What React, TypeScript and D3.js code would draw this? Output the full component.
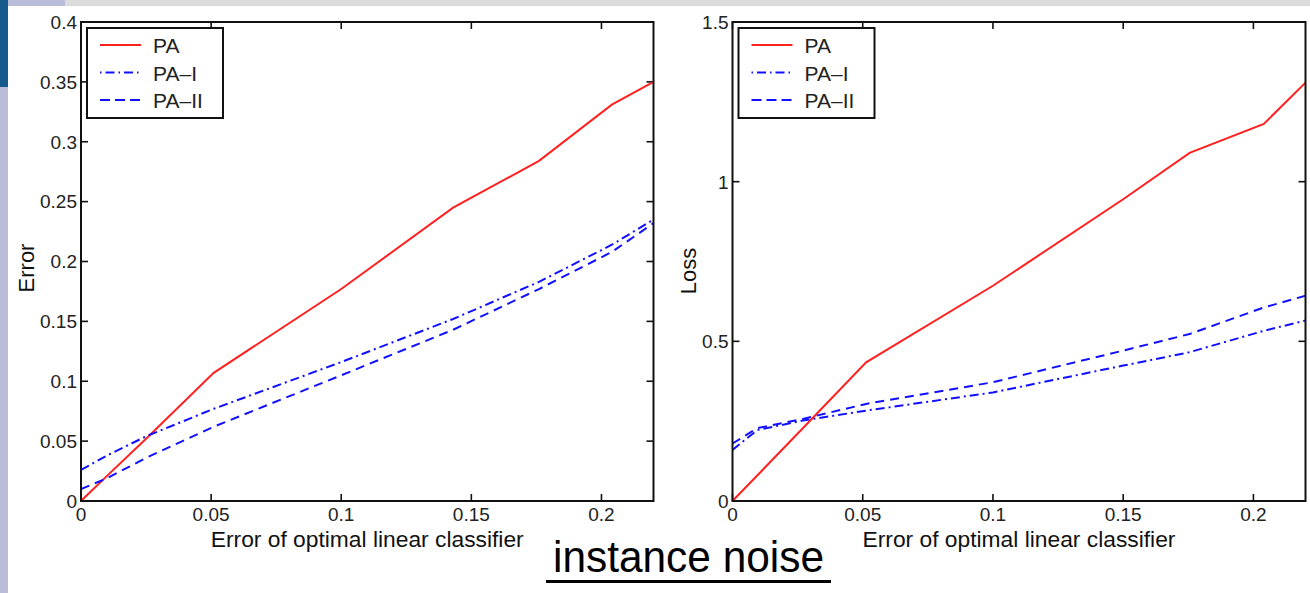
import React from "react";
import * as d3 from "d3";

// ---- data ----
const leftX = [0, 0.01, 0.025, 0.051, 0.1, 0.143, 0.176, 0.204, 0.22];
const leftPA = [0, 0.021, 0.052, 0.107, 0.177, 0.245, 0.284, 0.331, 0.35];
const leftPAI = [0.026, 0.038, 0.054, 0.077, 0.116, 0.152, 0.183, 0.214, 0.235];
const leftPAII = [0.01, 0.019, 0.036, 0.062, 0.105, 0.143, 0.177, 0.208, 0.232];

const rightX = [0, 0.0095, 0.027, 0.0513, 0.1, 0.15, 0.1755, 0.204, 0.22];
const rightPA = [0, 0.08, 0.228, 0.434, 0.674, 0.945, 1.09, 1.181, 1.31];
const rightPAI = [0.16, 0.222, 0.252, 0.283, 0.34, 0.424, 0.466, 0.533, 0.565];
const rightPAII = [0.18, 0.228, 0.257, 0.304, 0.372, 0.471, 0.523, 0.606, 0.643];

const xTicks = [0, 0.05, 0.1, 0.15, 0.2];
const xTickLabels = ["0", "0.05", "0.1", "0.15", "0.2"];
const leftYTicks = [0, 0.05, 0.1, 0.15, 0.2, 0.25, 0.3, 0.35, 0.4];
const leftYTickLabels = ["0", "0.05", "0.1", "0.15", "0.2", "0.25", "0.3", "0.35", "0.4"];
const rightYTicks = [0, 0.5, 1, 1.5];
const rightYTickLabels = ["0", "0.5", "1", "1.5"];

const seriesNames = ["PA", "PA\u2013I", "PA\u2013II"];
const xLabel = "Error of optimal linear classifier";
const title = "instance noise";

const FONT = "'Liberation Sans', Arial, Helvetica, sans-serif";
const RED = "#ff2020";
const BLUE = "#1010ff";
const styles = [
  { color: RED, dash: "none" },
  { color: BLUE, dash: "9,4,2,4" },
  { color: BLUE, dash: "9,6" },
];
const legendDash = ["none", "1.5,4,9,4", "10,5"];

type PanelProps = {
  left: number;
  right: number;
  top: number;
  bottom: number;
  yMax: number;
  xs: number[];
  series: number[][];
  yTicks: number[];
  yTickLabels: string[];
  yLabel: string;
  yLabelX: number;
  yLabelY: number;
};

function Panel(p: PanelProps) {
  const x = d3.scaleLinear().domain([0, 0.22]).range([p.left, p.right]);
  const y = d3.scaleLinear().domain([0, p.yMax]).range([p.bottom, p.top]);
  const line = d3
    .line<number>()
    .x((_, i) => x(p.xs[i]))
    .y((d) => y(d));
  const tl = 7;
  const lx = p.left + 6;
  const ly = p.top + 6;
  const lw = 136;
  const lh = 90;
  return (
    <g>
      <clipPath id={"clip" + p.left}>
        <rect x={p.left} y={p.top} width={p.right - p.left} height={p.bottom - p.top} />
      </clipPath>
      <rect x={p.left} y={p.top} width={p.right - p.left} height={p.bottom - p.top} fill="white" />
      {/* ticks */}
      {xTicks.map((t, i) => (
        <g key={"xt" + i}>
          <line x1={x(t)} x2={x(t)} y1={p.bottom} y2={p.bottom - tl} stroke="#111" strokeWidth={1.6} />
          <line x1={x(t)} x2={x(t)} y1={p.top} y2={p.top + tl} stroke="#111" strokeWidth={1.6} />
          <text x={x(t)} y={p.bottom + 20} textAnchor="middle" fontSize={19} fontFamily={FONT} fill="#222">
            {xTickLabels[i]}
          </text>
        </g>
      ))}
      {p.yTicks.map((t, i) => (
        <g key={"yt" + i}>
          <line x1={p.left} x2={p.left + tl} y1={y(t)} y2={y(t)} stroke="#111" strokeWidth={1.6} />
          <line x1={p.right} x2={p.right - tl} y1={y(t)} y2={y(t)} stroke="#111" strokeWidth={1.6} />
          <text x={p.left - 4} y={y(t)} dy="0.36em" textAnchor="end" fontSize={19} fontFamily={FONT} fill="#222">
            {p.yTickLabels[i]}
          </text>
        </g>
      ))}
      {/* lines */}
      <g clipPath={`url(#clip${p.left})`}>
        {p.series.map((s, i) => (
          <path
            key={"s" + i}
            d={line(s) || ""}
            fill="none"
            stroke={styles[i].color}
            strokeWidth={2}
            strokeDasharray={styles[i].dash}
          />
        ))}
      </g>
      <rect x={p.left} y={p.top} width={p.right - p.left} height={p.bottom - p.top} fill="none" stroke="#111" strokeWidth={2} />
      {/* legend */}
      <rect x={lx} y={ly} width={lw} height={lh} fill="white" stroke="#111" strokeWidth={2} />
      {seriesNames.map((n, i) => {
        const ry = ly + 17 + i * 27.5;
        return (
          <g key={"lg" + i}>
            <line
              x1={lx + 13}
              x2={lx + 54}
              y1={ry}
              y2={ry}
              stroke={styles[i].color}
              strokeWidth={2}
              strokeDasharray={legendDash[i]}
            />
            <text x={lx + 66} y={ry + 8} fontSize={21} fontFamily={FONT} fill="#222">
              {n}
            </text>
          </g>
        );
      })}
      {/* axis labels */}
      <text
        x={(p.left + p.right) / 2}
        y={547}
        textAnchor="middle"
        fontSize={22.8}
        fontFamily={FONT}
        fill="#111"
      >
        {xLabel}
      </text>
      <text
        transform={`translate(${p.yLabelX},${p.yLabelY}) rotate(-90)`}
        textAnchor="middle"
        fontSize={22}
        fontFamily={FONT}
        fill="#111"
      >
        {p.yLabel}
      </text>
    </g>
  );
}

export default function App() {
  return (
    <svg
      width={1310}
      height={593}
      style={{ position: "absolute", left: 0, top: 0, background: "white" }}
    >
      <rect x={0} y={0} width={1310} height={593} fill="white" />
      {/* slide decorations */}
      <rect x={0} y={0} width={1310} height={6} fill="#dcdcdc" />
      <rect x={0} y={0} width={65} height={6} fill="#b9bdda" />
      <rect x={0} y={0} width={8} height={593} fill="#b9bdda" />
      <rect x={0} y={0} width={8} height={87} fill="#165a8c" />
      <Panel
        left={81}
        right={653.5}
        top={22}
        bottom={501}
        yMax={0.4}
        xs={leftX}
        series={[leftPA, leftPAI, leftPAII]}
        yTicks={leftYTicks}
        yTickLabels={leftYTickLabels}
        yLabel="Error"
        yLabelX={34}
        yLabelY={268}
      />
      <Panel
        left={732.5}
        right={1305.5}
        top={22}
        bottom={501}
        yMax={1.5}
        xs={rightX}
        series={[rightPA, rightPAI, rightPAII]}
        yTicks={rightYTicks}
        yTickLabels={rightYTickLabels}
        yLabel="Loss"
        yLabelX={696}
        yLabelY={271}
      />
      <text
        x={553}
        y={572}
        fontSize={44}
        fontFamily={FONT}
        fill="#000"
        textLength={271}
        lengthAdjust="spacingAndGlyphs"
      >
        {title}
      </text>
      <rect x={546} y={580} width={285} height={3} fill="#000" />
    </svg>
  );
}
